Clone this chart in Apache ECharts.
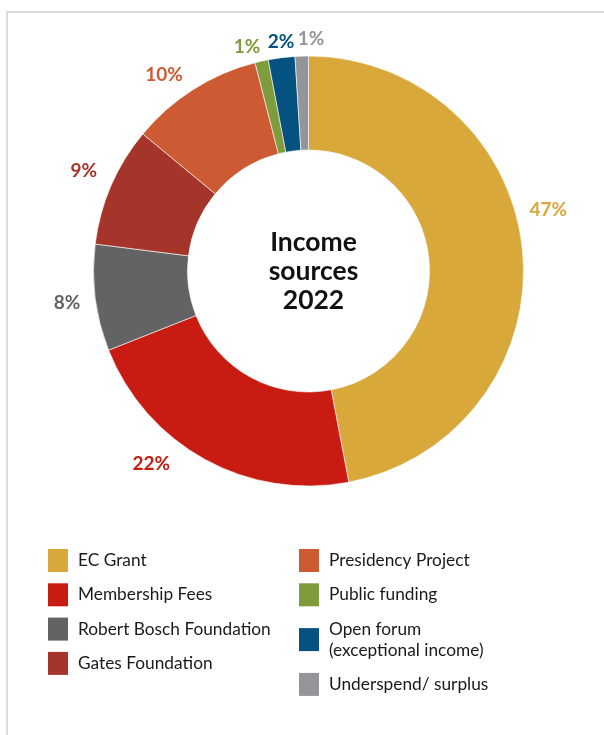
<!DOCTYPE html>
<html>
<head>
<meta charset="utf-8">
<script src="https://cdn.jsdelivr.net/npm/echarts@6/dist/echarts.min.js"></script>
<style>
  html, body { margin: 0; padding: 0; background: #fff; }
  #frame { position: absolute; left: 6px; top: 11px; width: 700px; height: 800px;
           border-left: 2px solid #dcdcdc; border-top: 2px solid #dcdcdc; }
  #chart { position: absolute; left: 0; top: 0; width: 604px; height: 735px; }
</style>
</head>
<body>
<div id="frame"></div>
<div id="chart"></div>
<script>
const categories = ['EC Grant', 'Membership Fees', 'Robert Bosch Foundation', 'Gates Foundation',
                    'Presidency Project', 'Public funding', 'Open forum\n(exceptional income)', 'Underspend/ surplus'];
const shares = [47, 22, 8, 9, 10, 1, 2, 1];
const centerTitle = 'Income\nsources\n2022';

const colors = ['#D8A93A', '#C81C13', '#636365', '#A5352A', '#CC5A33', '#7F9C3C', '#05517F', '#949599'];
const labelNudge = [[-8, -40], [-25, -4], [0, 4], [0, -11], [0, -6], [6, -5], [19, -6], [28, -7]];

const chart = echarts.init(document.getElementById('chart'), null, { renderer: 'canvas' });

const legendBase = {
  orient: 'vertical', top: 549, padding: 0,
  itemWidth: 20, itemHeight: 23, itemGap: 11.3,
  icon: 'rect', selectedMode: false, symbolKeepAspect: false,
  itemStyle: { borderWidth: 0 },
  textStyle: { fontFamily: 'Lato', fontSize: 17.3, color: '#1a1a1a', lineHeight: 21, padding: [2, 0, 0, 5] }
};

chart.setOption({
  animation: false,
  color: colors,
  title: {
    text: centerTitle,
    left: 308.5,
    top: 266,
    textAlign: 'center',
    textVerticalAlign: 'middle',
    textStyle: { fontFamily: 'Lato', fontWeight: 'bold', fontSize: 26.5, lineHeight: 29, color: '#111' }
  },
  legend: [
    Object.assign({}, legendBase, { left: 48, data: categories.slice(0, 4) }),
    Object.assign({}, legendBase, { left: 299, data: categories.slice(4) })
  ],
  series: [{
    type: 'pie',
    center: [308.5, 271],
    radius: [121, 215],
    startAngle: 90,
    clockwise: true,
    avoidLabelOverlap: false,
    itemStyle: { borderColor: '#fff', borderWidth: 0.6 },
    label: {
      show: true,
      position: 'outside',
      formatter: (p) => p.value + '%',
      fontFamily: 'Lato', fontWeight: 'bold', fontSize: 19,
      color: 'inherit'
    },
    labelLine: { show: false, length: 10, length2: 0 },
    labelLayout: (p) => ({ dx: labelNudge[p.dataIndex][0], dy: labelNudge[p.dataIndex][1] }),
    emphasis: { disabled: true },
    data: categories.map((c, i) => ({ name: c, value: shares[i], label: { color: colors[i] } }))
  }]
});
</script>
</body>
</html>
